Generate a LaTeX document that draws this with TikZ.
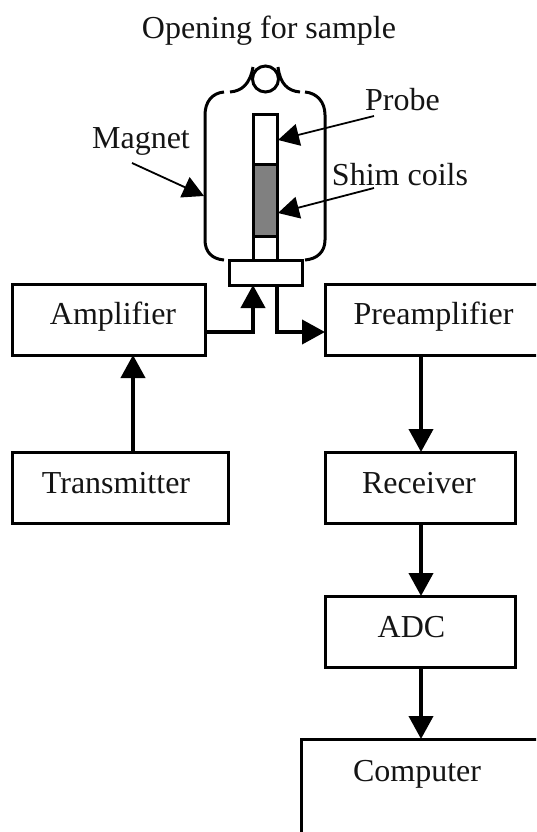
\documentclass[tikz,border=0pt]{standalone}
\usepackage{fontspec}
\setmainfont{Liberation Serif}
\usetikzlibrary{arrows.meta}
\tikzset{
  x=1pt,y=-1pt,
  every node/.style={outer sep=0pt},
  box/.style={draw,line width=3pt,rectangle,minimum width=#1,minimum height=71pt,inner sep=0pt},
  txt/.style={font=\fontsize{32}{32}\selectfont,inner sep=0pt,text=black!92,anchor=base},
  flow/.style={line width=4pt,-{Triangle[length=23pt,width=24pt]}},
  thin arrow/.style={line width=1.8pt,-{Triangle[length=21pt,width=22pt]}},
  body/.style={line width=3pt}
}
\begin{document}
\begin{tikzpicture}
\useasboundingbox (0,0) rectangle (536,832);
\clip (0,0) rectangle (536,832);
\node[box=193pt,anchor=north west] (amp) at (12.5,284) {};
\node[box=230pt,anchor=north west] (pre) at (325,284) {};
\node[box=216pt,anchor=north west] (tx) at (12.5,452) {};
\node[box=190.5pt,anchor=north west] (rx) at (325,452) {};
\node[box=190.5pt,anchor=north west] (adc) at (325,596) {};
\node[draw,line width=3pt,rectangle,minimum width=300pt,minimum height=140pt,anchor=north west,inner sep=0pt] (comp) at (301,739) {};
\node[txt] (ltop) at (269,38.5) {Opening for sample};
\node[txt] (lmag) at (141,148) {Magnet};
\node[txt] (lprobe) at (402.5,111) {Probe};
\node[txt] (lshim) at (400,185) {Shim coils};
\node[txt] (lamp) at (113,324.5) {Amplifier};
\node[txt] (lpre) at (433.6,324.5) {Preamplifier};
\node[txt] (ltx) at (116,493.5) {Transmitter};
\node[txt] (lrx) at (419,493.5) {Receiver};
\node[txt] (ladc) at (411.5,637) {ADC};
\node[txt] (lcomp) at (417,781) {Computer};
% magnet
\draw[body] (224,92) .. controls (212,93) and (205,102) .. (205,115) -- (205,240) .. controls (205,252) and (212,259) .. (224,260);
\draw[body] (305,92) .. controls (317,93) and (325,102) .. (325,115) -- (325,240) .. controls (325,252) and (317,259) .. (305,260);
\draw[body] (230,92) .. controls (242,91) and (250,84) .. (253,67);
\draw[body] (300,92) .. controls (288,91) and (280,84) .. (278,67);
\draw[body] (265.5,79) circle (13);
% probe
\node[draw,body,fill=black!50,minimum width=24pt,minimum height=72pt,inner sep=0pt,anchor=north west] (coil) at (253,164) {};
\node[draw,body,minimum width=24pt,minimum height=49pt,inner sep=0pt,anchor=south] (ptop) at (coil.north) {};
\node[draw,body,minimum width=24pt,minimum height=24pt,inner sep=0pt,anchor=north] (pbot) at (coil.south) {};
\node[draw,body,minimum width=73pt,minimum height=25pt,inner sep=0pt,anchor=north west] (base) at (229,260) {};
% connectors
\draw[flow] (amp.east |- 0,332) -- (253,332) -- (base.south -| 253,0);
\draw[flow] (base.south -| 277,0) -- (277,332) -- (pre.west |- 0,332);
\draw[flow] (tx.north -| 133,0) -- (amp.south -| 133,0);
\draw[flow] (pre.south -| 421,0) -- (rx.north -| 421,0);
\draw[flow] (rx.south -| 421,0) -- (adc.north -| 421,0);
\draw[flow] (adc.south -| 421,0) -- (comp.north -| 421,0);
\coordinate (pa) at (374,116);
\coordinate (sa) at (374,188);
\coordinate (ma) at (132,163);
\coordinate (pt) at (278,140);
\coordinate (st) at (278,213);
\coordinate (mt) at (204,196);
\draw[thin arrow] (pa) -- (pt);
\draw[thin arrow] (sa) -- (st);
\draw[thin arrow] (ma) -- (mt);
\end{tikzpicture}
\end{document}
